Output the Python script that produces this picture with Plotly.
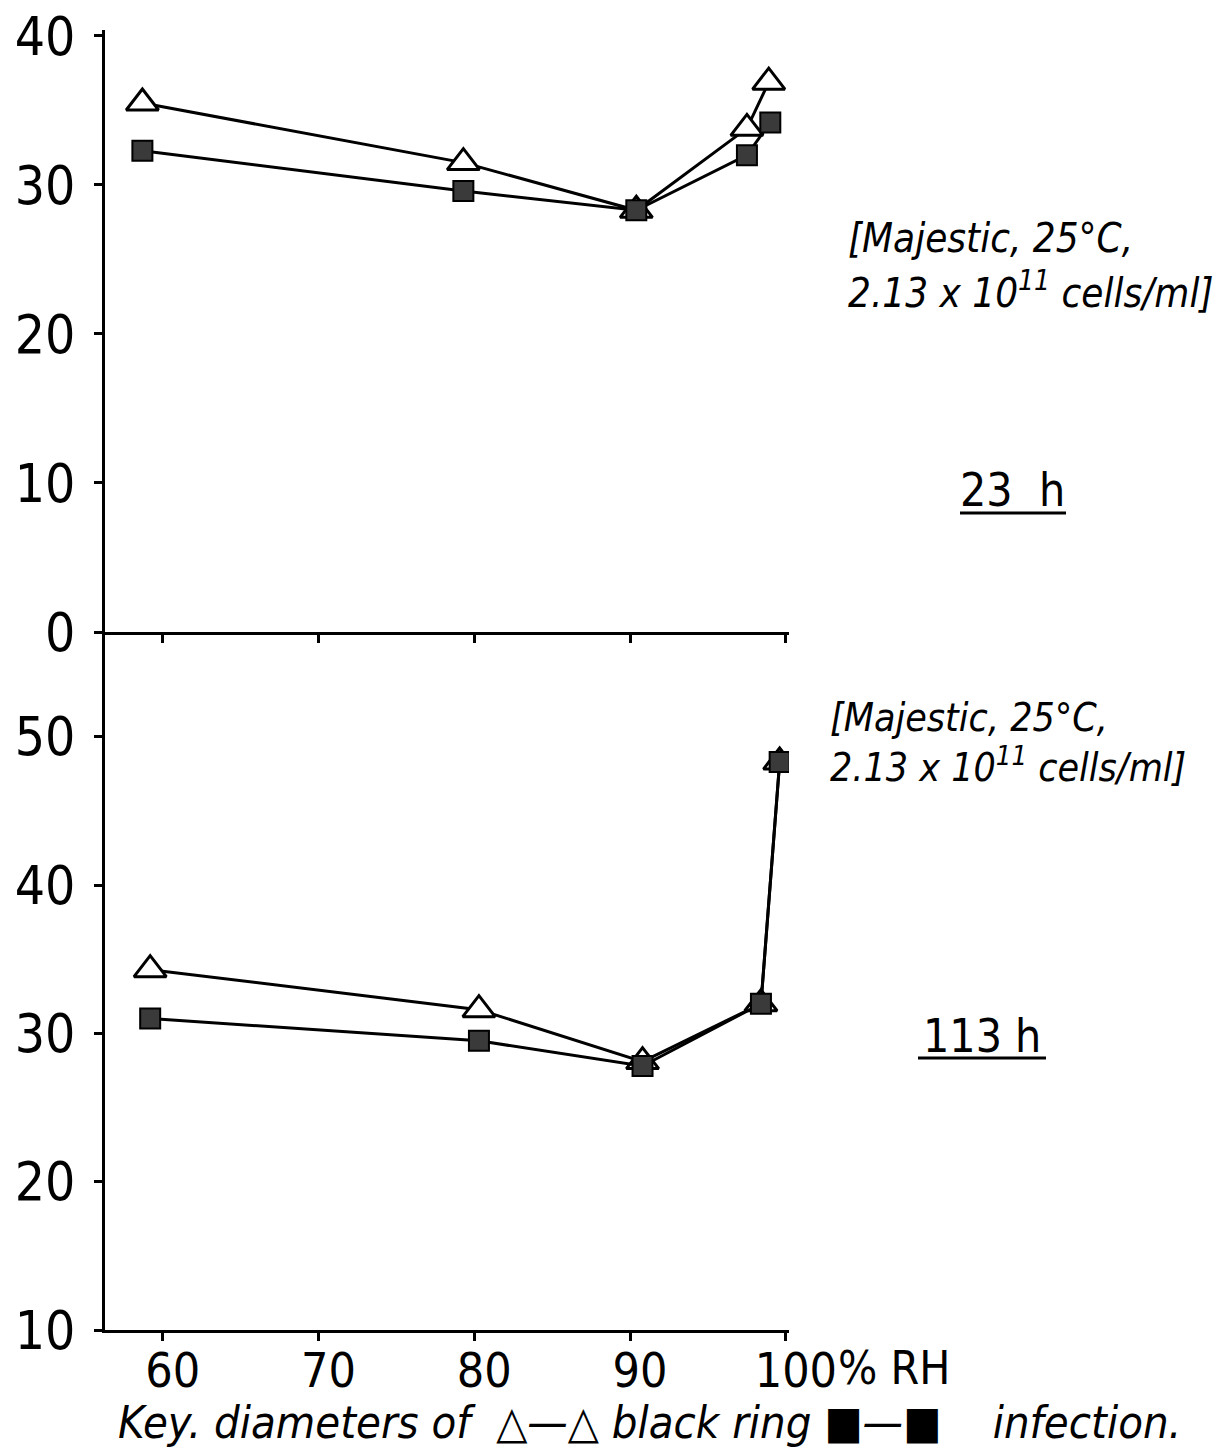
import plotly.graph_objects as go

# ---- data ----
rh_top = [58.7, 79.3, 90.4, 97.5, 98.9]
ring_top = [35.5, 31.5, 28.3, 33.8, 36.9]
rh_top_sq = [58.7, 79.3, 90.4, 97.5, 99.0]
inf_top = [32.3, 29.6, 28.3, 32.0, 34.2]

rh_bot = [59.2, 80.3, 90.8, 98.4, 99.6]
ring_bot = [34.3, 31.6, 28.1, 32.0, 48.3]
inf_bot = [31.0, 29.5, 27.8, 32.0, 48.3]

x_ticks = [60, 70, 80, 90, 100]
x_ticktext = ["60", "70", "80", "90", "100"]
top_yticks = [0, 10, 20, 30, 40]
bot_yticks = [10, 20, 30, 40, 50]

FONT = "Liberation Sans Narrow, DejaVu Sans Condensed, Arial Narrow, sans-serif"
IFONT = "DejaVu Sans Condensed, Liberation Sans Narrow, sans-serif"

W, H = 1218, 1454
L, T = 105, 30
PW, PH = 684, 1300
R, B = W - L - PW, H - T - PH
split = (1330 - 632) / PH


def px(xp):
    return (xp - L) / PW


def py(yp):
    return (H - B - yp) / PH


fig = go.Figure()

tri = dict(symbol="triangle-up", size=28, color="white", line=dict(color="black", width=3))
sq = dict(symbol="square", size=20, color="#3a3a3a", line=dict(color="black", width=2))
ln = dict(color="black", width=3)

fig.add_trace(go.Scatter(x=rh_top, y=ring_top, mode="lines+markers", marker=tri, line=ln,
                         xaxis="x2", yaxis="y2", showlegend=False))
fig.add_trace(go.Scatter(x=rh_top_sq, y=inf_top, mode="lines+markers", marker=sq, line=ln,
                         xaxis="x2", yaxis="y2", showlegend=False))
fig.add_trace(go.Scatter(x=rh_bot, y=ring_bot, mode="lines+markers", marker=tri, line=ln,
                         xaxis="x", yaxis="y", showlegend=False))
fig.add_trace(go.Scatter(x=rh_bot, y=inf_bot, mode="lines+markers", marker=sq, line=ln,
                         xaxis="x", yaxis="y", showlegend=False))

axis_common = dict(showgrid=False, zeroline=False, showline=True, linecolor="black", linewidth=3,
                   ticks="outside", tickwidth=3, tickcolor="black", ticklen=8)

yfont = dict(family=FONT, size=53, color="black")

fig.update_layout(
    width=W, height=H,
    margin=dict(l=L, r=R, t=T, b=B, autoexpand=False),
    paper_bgcolor="white", plot_bgcolor="white",
    xaxis=dict(domain=[0, 1], anchor="y", range=[56.3, 100.2], tickvals=x_ticks, ticktext=x_ticktext,
               tickfont=dict(family=FONT, size=48, color="black"),
               ticklabelstandoff=-12, ticklabelshift=10, **axis_common),
    yaxis=dict(domain=[0, split], anchor="x", range=[10, 57.07], tickvals=bot_yticks,
               tickfont=yfont, ticklabelstandoff=8, **axis_common),
    xaxis2=dict(domain=[0, 1], anchor="y2", range=[56.3, 100.2], tickvals=x_ticks,
                showticklabels=False, **axis_common),
    yaxis2=dict(domain=[split, 1], anchor="x2", range=[0, 40.4], tickvals=top_yticks,
                tickfont=yfont, ticklabelstandoff=8, ticklabeloverflow="allow", **axis_common),
)

ann = []


def add_text(text, xp, yp, size, italic=False, xanchor="left"):
    ann.append(dict(text=(f"<i>{text}</i>" if italic else text), x=px(xp), y=py(yp),
                    xref="paper", yref="paper", xanchor=xanchor, yanchor="middle", showarrow=False,
                    font=dict(family=IFONT if italic else FONT, size=size, color="black")))


add_text("[Majestic, 25°C,", 846, 238, 40, italic=True)
add_text("2.13 x 10<sup>11</sup> cells/ml]", 846, 290, 40, italic=True)
add_text("[Majestic, 25°C,", 828, 718, 39, italic=True)
add_text("2.13 x 10<sup>11</sup> cells/ml]", 828, 765, 39, italic=True)
add_text("23  h", 1012, 490, 46, xanchor="center")
add_text("113 h", 982, 1036, 46, xanchor="center")
add_text("% RH", 836, 1368, 46)
add_text("Key. diameters of  △—△ black ring ■—■    infection.", 116, 1422, 45, italic=True)

fig.update_layout(annotations=ann)

shapes = [
    dict(type="line", xref="paper", yref="paper", x0=px(960), x1=px(1066), y0=py(513), y1=py(513),
         line=dict(color="black", width=3)),
    dict(type="line", xref="paper", yref="paper", x0=px(918), x1=px(1046), y0=py(1058), y1=py(1058),
         line=dict(color="black", width=3)),
]
fig.update_layout(shapes=shapes)

fig.write_html("out.html", config={"displayModeBar": False},
               post_script="document.body.style.margin='0';document.body.style.overflow='hidden';")
